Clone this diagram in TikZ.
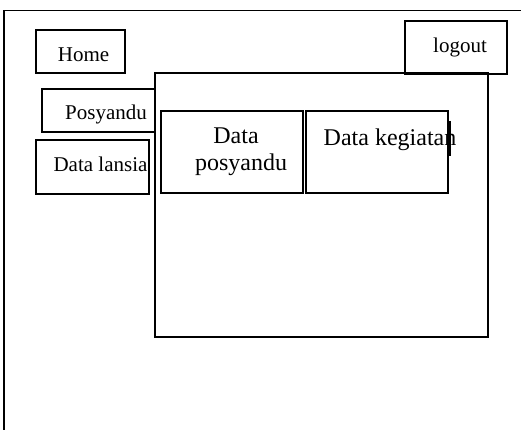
\documentclass[tikz,border=0pt]{standalone}
\usepackage{fontspec}
\setmainfont{Liberation Serif}
\begin{document}
\begin{tikzpicture}[x=1pt,y=-1pt,
  frame/.style={draw=black, line width=1.8pt},
  box/.style={frame, rectangle, inner sep=0pt, anchor=north west},
  small/.style={font=\fontsize{21}{24}\selectfont, inner sep=0pt, anchor=base},
  big/.style={font=\fontsize{24}{28}\selectfont, inner sep=0pt, anchor=base}]
\useasboundingbox (0,0) rectangle (521,430);
\clip (0,0) rectangle (521,430);
% page frame: only its left and top edges fall inside the picture
\coordinate (pagebl) at (4,440);
\coordinate (pagetl) at (4,10.5);
\coordinate (pagetr) at (540,10.5);
\draw[frame] (pagebl) -- (pagetl) -- (pagetr);
% menu buttons
\node[box, minimum width=89pt, minimum height=43pt] (home) at (35,29) {};
\node[box, minimum width=113pt, minimum height=43pt] (posy) at (41,88) {};
\node[box, minimum width=113pt, minimum height=54pt] (lansia) at (35,139) {};
\node[box, minimum width=102pt, minimum height=53pt] (logout) at (404,20) {};
% content panel
\node[box, minimum width=333pt, minimum height=264pt] (panel) at (154,72) {};
\node[box, minimum width=142pt, minimum height=82pt] (dpos) at (160,110) {};
\node[box, minimum width=142pt, minimum height=82pt] (dkeg) at (305,110) {};
\draw[frame] (dkeg.north east) ++(1.5,11) -- ++(0,35);
% labels
\node[small] (thome) at (83.5,62) {Home};
\node[small] (tposy) at (106,119.5) {Posyandu};
\node[small] (tlansia) at (100.5,172) {Data lansia};
\node[small] (tlogout) at (460,53) {logout};
\node[big] (tdpos1) at (236,144) {Data};
\node[big] (tdpos2) at (241,171) {posyandu};
\node[big] (tdkeg) at (390,146) {Data kegiatan};
\end{tikzpicture}
\end{document}
